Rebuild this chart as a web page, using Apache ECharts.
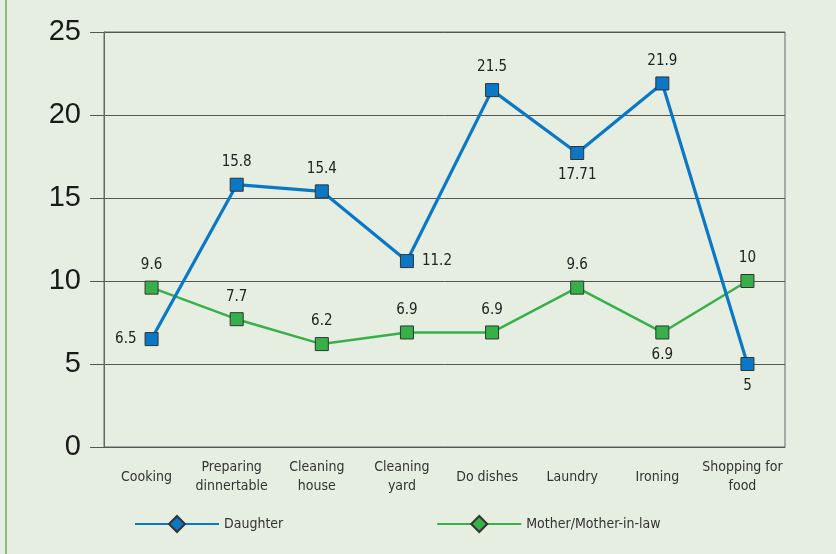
<!DOCTYPE html>
<html>
<head>
<meta charset="utf-8">
<script src="https://cdn.jsdelivr.net/npm/echarts@6/dist/echarts.min.js"></script>
<style>
  html, body { margin: 0; padding: 0; background: #e6ede1; }
  #chart { width: 836px; height: 554px; }
</style>
</head>
<body>
<div id="chart"></div>
<script>
const tasks = ['Cooking', 'Preparing\ndinnertable', 'Cleaning\nhouse', 'Cleaning\nyard', 'Do dishes', 'Laundry', 'Ironing', 'Shopping for\nfood']
const daughter = [6.5, 15.8, 15.4, 11.2, 21.5, 17.71, 21.9, 5]
const mother = [9.6, 7.7, 6.2, 6.9, 6.9, 9.6, 6.9, 10]
const daughterLabelPos = ['left', 'top', 'top', 'right', 'top', 'bottom', 'top', 'bottom']
const motherLabelPos = ['top', 'top', 'top', 'top', 'top', 'top', 'bottom', 'top']

const narrow = "'Liberation Sans Narrow', 'DejaVu Sans Condensed', sans-serif"

// square markers on the points, the series-level diamond is only used by the legend
function points(values, positions) {
  return values.map((v, i) => ({
    value: v,
    symbol: 'rect',
    symbolSize: 13,
    label: { position: positions[i] }
  }))
}

const chart = echarts.init(document.getElementById('chart'))
chart.setOption({
  backgroundColor: '#e6ede1',
  animation: false,
  graphic: [
    {
      type: 'line',
      shape: { x1: 6, y1: 0, x2: 6, y2: 554 },
      style: { stroke: '#7aa65e', lineWidth: 1.5 }
    }
  ],
  grid: [
    {
      left: 104,
      right: 51,
      top: 32,
      bottom: 107,
      show: true,
      borderColor: '#666',
      borderWidth: 1
    },
    {
      left: 109,
      right: 46,
      top: 32,
      bottom: 107
    }
  ],
  legend: {
    bottom: 16,
    left: 129,
    itemGap: 153,
    itemWidth: 84,
    itemHeight: 20,
    textStyle: { fontFamily: narrow, fontSize: 14, color: '#333' },
    data: ['Daughter', 'Mother/Mother-in-law']
  },
  xAxis: [
    {
      type: 'category',
      data: tasks,
      gridIndex: 0,
      axisLine: { lineStyle: { color: '#555' } },
      axisTick: { length: 10, lineStyle: { color: '#555' } },
      axisLabel: {
        fontFamily: narrow,
        fontSize: 14,
        lineHeight: 19,
        color: '#333',
        verticalAlign: 'middle',
        margin: 30,
        interval: 0
      }
    },
    {
      type: 'category',
      data: tasks,
      gridIndex: 1,
      show: false
    }
  ],
  yAxis: [
    {
      type: 'value',
      gridIndex: 0,
      min: 0,
      max: 25,
      interval: 5,
      axisLine: { show: true, lineStyle: { color: '#666' } },
      axisTick: { show: true, length: 14, lineStyle: { color: '#555' } },
      axisLabel: {
        fontFamily: 'Liberation Sans, Arial, sans-serif',
        fontSize: 29,
        color: '#1a1a1a',
        margin: 23
      },
      splitLine: { lineStyle: { color: '#555' } }
    },
    {
      type: 'value',
      gridIndex: 1,
      min: 0,
      max: 25,
      interval: 5,
      show: false,
      splitLine: { show: false }
    }
  ],
  series: [
    {
      name: 'Daughter',
      type: 'line',
      xAxisIndex: 1,
      yAxisIndex: 1,
      data: points(daughter, daughterLabelPos),
      symbol: 'diamond',
      symbolSize: 18,
      color: '#0a78c6',
      lineStyle: { width: 3.2, color: '#0a78c6' },
      itemStyle: { color: '#0a78c6', borderColor: '#333', borderWidth: 1 },
      label: {
        show: true,
        fontFamily: narrow,
        fontSize: 15,
        color: '#222',
        distance: 8
      },
      z: 3
    },
    {
      name: 'Mother/Mother-in-law',
      type: 'line',
      xAxisIndex: 1,
      yAxisIndex: 1,
      data: points(mother, motherLabelPos),
      symbol: 'diamond',
      symbolSize: 18,
      color: '#38b04a',
      lineStyle: { width: 2.5, color: '#38b04a' },
      itemStyle: { color: '#38b04a', borderColor: '#333', borderWidth: 1 },
      label: {
        show: true,
        fontFamily: narrow,
        fontSize: 15,
        color: '#222',
        distance: 8
      },
      z: 2
    }
  ]
})
</script>
</body>
</html>
